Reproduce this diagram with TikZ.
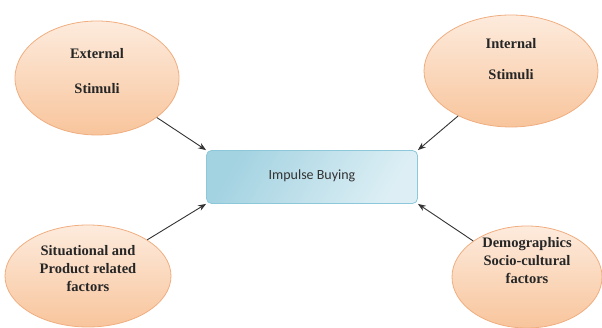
\documentclass[tikz,border=0pt]{standalone}
\usepackage{fontspec}
\setmainfont{Liberation Serif}
\newfontfamily\boxfont{Carlito}
\usetikzlibrary{shapes.geometric,arrows.meta}
\definecolor{peachL}{HTML}{FDEBDD}
\definecolor{peachD}{HTML}{F8C59C}
\definecolor{peachB}{HTML}{F0AE80}
\definecolor{blueL}{HTML}{DDEFF5}
\definecolor{blueD}{HTML}{A3D2E1}
\definecolor{blueB}{HTML}{8CC8DA}
\newcommand{\ftext}[2]{\raisebox{#1}[0pt][0pt]{\begin{tabular}{@{}c@{}}#2\end{tabular}}}
\tikzset{
  factor/.style={ellipse, draw=peachB, line width=0.8pt, top color=peachL, bottom color=peachD,
    align=center, font=\fontsize{14.5}{18}\selectfont\bfseries, text=black!85, inner sep=0pt},
  centerbox/.style={rectangle, rounded corners=5pt, draw=blueB, line width=0.8pt,
    shading=axis, left color=blueD, right color=blueL, shading angle=60,
    font=\boxfont\fontsize{14}{16}\selectfont, text=black!80},
  link/.style={draw=black!80, line width=0.9pt, -{Stealth[length=8pt,width=6pt]}}
}
\begin{document}
\begin{tikzpicture}[x=1pt,y=-1pt]
\useasboundingbox (0,0) rectangle (602,328);
\node[centerbox, minimum width=211pt, minimum height=53pt] (ib) at (312,177) {\raisebox{4pt}{Impulse Buying}};
\node[factor, minimum width=164pt, minimum height=114pt] (ext) at (97,78)
  {\ftext{2pt}{External\\[17pt]Stimuli}};
\node[factor, minimum width=174pt, minimum height=112pt] (int) at (511,71)
  {\ftext{7pt}{Internal\\[13pt]Stimuli}};
\node[factor, minimum width=166pt, minimum height=102pt] (sit) at (88,276)
  {\ftext{2.5pt}{Situational and\\Product related\\factors}};
\node[factor, minimum width=150pt, minimum height=102pt] (dem) at (527,277)
  {\ftext{11.5pt}{Demographics\\Socio-cultural\\factors}};
\draw[link] (ext) -- (ib.north west);
\draw[link] (int) -- (ib.north east);
\draw[link] (sit) -- (ib.south west);
\draw[link] (dem) -- (ib.south east);
\end{tikzpicture}
\end{document}
